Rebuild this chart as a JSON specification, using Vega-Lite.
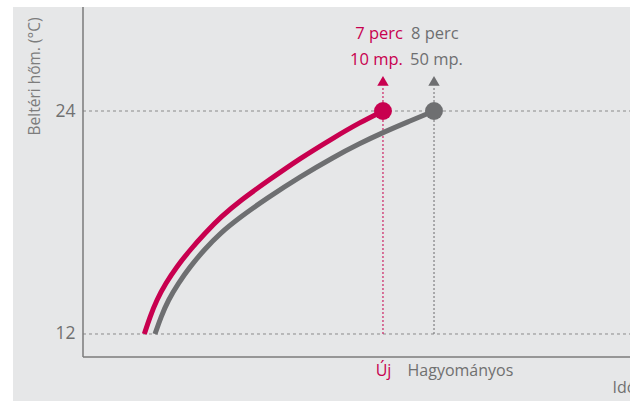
{
  "$schema": "https://vega.github.io/schema/vega-lite/v6.json",
  "width": 617,
  "height": 394,
  "autosize": {"type": "none"},
  "padding": {"left": 13, "top": 7, "right": 0, "bottom": 0},
  "background": "#ffffff",
  "config": {"view": {"fill": "#e6e7e8", "stroke": null}, "font": "Open Sans"},
  "datasets": {
    "gorbek": [
      {"sorozat": "Új", "ido": 11.21, "hom": 12.0},
      {"sorozat": "Új", "ido": 12.25, "hom": 12.93},
      {"sorozat": "Új", "ido": 13.47, "hom": 13.83},
      {"sorozat": "Új", "ido": 15.12, "hom": 14.73},
      {"sorozat": "Új", "ido": 17.13, "hom": 15.62},
      {"sorozat": "Új", "ido": 19.56, "hom": 16.52},
      {"sorozat": "Új", "ido": 22.3, "hom": 17.42},
      {"sorozat": "Új", "ido": 25.23, "hom": 18.31},
      {"sorozat": "Új", "ido": 28.88, "hom": 19.21},
      {"sorozat": "Új", "ido": 33.58, "hom": 20.2},
      {"sorozat": "Új", "ido": 39.67, "hom": 21.45},
      {"sorozat": "Új", "ido": 45.76, "hom": 22.55},
      {"sorozat": "Új", "ido": 50.6, "hom": 23.38},
      {"sorozat": "Új", "ido": 54.84, "hom": 24.0},
      {"sorozat": "Hagyományos", "ido": 13.16, "hom": 12.0},
      {"sorozat": "Hagyományos", "ido": 14.26, "hom": 12.93},
      {"sorozat": "Hagyományos", "ido": 15.59, "hom": 13.83},
      {"sorozat": "Hagyományos", "ido": 17.42, "hom": 14.73},
      {"sorozat": "Hagyományos", "ido": 19.56, "hom": 15.62},
      {"sorozat": "Hagyományos", "ido": 22.18, "hom": 16.54},
      {"sorozat": "Hagyományos", "ido": 25.05, "hom": 17.42},
      {"sorozat": "Hagyományos", "ido": 28.7, "hom": 18.28},
      {"sorozat": "Hagyományos", "ido": 33.58, "hom": 19.3},
      {"sorozat": "Hagyományos", "ido": 39.67, "hom": 20.46},
      {"sorozat": "Hagyományos", "ido": 45.76, "hom": 21.51},
      {"sorozat": "Hagyományos", "ido": 50.64, "hom": 22.26},
      {"sorozat": "Hagyományos", "ido": 54.9, "hom": 22.85},
      {"sorozat": "Hagyományos", "ido": 59.5, "hom": 23.43},
      {"sorozat": "Hagyományos", "ido": 64.17, "hom": 24.0}
    ],
    "pontok": [
      {"sorozat": "Új", "ido": 54.84, "hom": 24, "perc": "7 perc", "mp": "10 mp."},
      {"sorozat": "Hagyományos", "ido": 64.17, "hom": 24, "perc": "8 perc", "mp": "50 mp."}
    ],
    "racs": [{"hom": 12}, {"hom": 24}]
  },
  "layer": [
    {
      "data": {"name": "racs"},
      "mark": {"type": "rule", "color": "#8a8a8a", "strokeWidth": 1, "strokeDash": [3, 3]},
      "encoding": {
        "y": {"field": "hom", "type": "quantitative", "scale": {"domain": [8.394, 29.597], "nice": false, "zero": false}},
        "x": {"datum": 0, "type": "quantitative", "scale": {"domain": [-12.797, 100], "nice": false, "zero": false}},
        "x2": {"datum": 100}
      }
    },
    {
      "data": {"values": [{}]},
      "mark": {"type": "rule", "color": "#7b7b7b", "strokeWidth": 1.5},
      "encoding": {
        "x": {"datum": 0, "type": "quantitative", "scale": {"domain": [-12.797, 100], "nice": false, "zero": false}},
        "y": {"datum": 10.762, "type": "quantitative", "scale": {"domain": [8.394, 29.597], "nice": false, "zero": false}},
        "y2": {"datum": 29.597}
      }
    },
    {
      "data": {"values": [{}]},
      "mark": {"type": "rule", "color": "#7b7b7b", "strokeWidth": 1.5},
      "encoding": {
        "x": {"datum": 0, "type": "quantitative", "scale": {"domain": [-12.797, 100], "nice": false, "zero": false}},
        "x2": {"datum": 100},
        "y": {"datum": 10.762, "type": "quantitative", "scale": {"domain": [8.394, 29.597], "nice": false, "zero": false}}
      }
    },
    {
      "data": {"name": "pontok"},
      "mark": {"type": "rule", "strokeWidth": 1.2, "strokeDash": [2, 2], "opacity": 0.85},
      "encoding": {
        "x": {"field": "ido", "type": "quantitative", "scale": {"domain": [-12.797, 100], "nice": false, "zero": false}},
        "y": {"datum": 12, "type": "quantitative", "scale": {"domain": [8.394, 29.597], "nice": false, "zero": false}},
        "y2": {"datum": 25.3},
        "color": {"field": "sorozat", "type": "nominal", "scale": {"domain": ["Új", "Hagyományos"], "range": ["#c8004f", "#6e6f71"]}, "legend": null}
      }
    },
    {
      "data": {"name": "pontok"},
      "mark": {"type": "point", "shape": "triangle-up", "filled": true, "opacity": 1, "size": 130},
      "encoding": {
        "x": {"field": "ido", "type": "quantitative", "scale": {"domain": [-12.797, 100], "nice": false, "zero": false}},
        "y": {"datum": 25.62, "type": "quantitative", "scale": {"domain": [8.394, 29.597], "nice": false, "zero": false}},
        "color": {"field": "sorozat", "type": "nominal", "scale": {"domain": ["Új", "Hagyományos"], "range": ["#c8004f", "#6e6f71"]}, "legend": null}
      }
    },
    {
      "data": {"name": "gorbek"},
      "mark": {"type": "line", "strokeWidth": 5, "interpolate": "basis", "strokeCap": "butt"},
      "encoding": {
        "x": {
          "field": "ido", "type": "quantitative",
          "scale": {"domain": [-12.797, 100], "nice": false, "zero": false},
          "axis": {
            "values": [54.84, 64.17],
            "labelExpr": "datum.value < 60 ? 'Új' : 'Hagyományos'",
            "labelAlign": {"condition": {"test": "datum.value > 60", "value": "left"}, "value": "center"},
            "labelOffset": {"condition": {"test": "datum.value > 60", "value": -27}, "value": 0},
            "labelColor": {"condition": {"test": "datum.value < 60", "value": "#c8004f"}, "value": "#707070"},
            "labelFontSize": 16,
            "labelPadding": 5,
            "labelFlush": false,
            "labelOverlap": false,
            "labelBound": false,
            "domain": false,
            "ticks": false,
            "grid": false,
            "offset": -44,
            "title": "Idő",
            "titleX": 599,
            "titleY": 22,
            "titleAlign": "left",
            "titleBaseline": "top",
            "titleFontSize": 16,
            "titleFontWeight": "normal",
            "titleColor": "#707070"
          }
        },
        "y": {
          "field": "hom", "type": "quantitative",
          "scale": {"domain": [8.394, 29.597], "nice": false, "zero": false},
          "axis": {
            "values": [12, 24],
            "domain": false,
            "ticks": false,
            "grid": false,
            "offset": -70,
            "labelPadding": 8,
            "labelFontSize": 17.5,
            "labelColor": "#707070",
            "title": "Beltéri hőm. (°C)",
            "titleFontSize": 15.5,
            "titleFontWeight": "normal",
            "titleColor": "#7d7d7d",
            "titleAnchor": "end",
            "titleAlign": "right",
            "titleY": 10,
            "titlePadding": 12
          }
        },
        "color": {"field": "sorozat", "type": "nominal", "scale": {"domain": ["Új", "Hagyományos"], "range": ["#c8004f", "#6e6f71"]}, "legend": null},
        "detail": {"field": "sorozat"}
      }
    },
    {
      "data": {"name": "pontok"},
      "mark": {"type": "circle", "size": 320, "opacity": 1},
      "encoding": {
        "x": {"field": "ido", "type": "quantitative", "scale": {"domain": [-12.797, 100], "nice": false, "zero": false}},
        "y": {"field": "hom", "type": "quantitative", "scale": {"domain": [8.394, 29.597], "nice": false, "zero": false}},
        "color": {"field": "sorozat", "type": "nominal", "scale": {"domain": ["Új", "Hagyományos"], "range": ["#c8004f", "#6e6f71"]}, "legend": null}
      }
    },
    {
      "data": {"name": "pontok"},
      "mark": {"type": "text", "fontSize": 16.5, "baseline": "middle",
        "align": {"expr": "datum.sorozat == 'Új' ? 'right' : 'left'"},
        "dx": {"expr": "datum.sorozat == 'Új' ? 20 : -23"}},
      "encoding": {
        "x": {"field": "ido", "type": "quantitative", "scale": {"domain": [-12.797, 100], "nice": false, "zero": false}},
        "y": {"datum": 28.14, "type": "quantitative", "scale": {"domain": [8.394, 29.597], "nice": false, "zero": false}},
        "text": {"field": "perc"},
        "color": {"field": "sorozat", "type": "nominal", "scale": {"domain": ["Új", "Hagyományos"], "range": ["#c8004f", "#6e6f71"]}, "legend": null}
      }
    },
    {
      "data": {"name": "pontok"},
      "mark": {"type": "text", "fontSize": 16.5, "baseline": "middle",
        "align": {"expr": "datum.sorozat == 'Új' ? 'right' : 'left'"},
        "dx": {"expr": "datum.sorozat == 'Új' ? 20 : -24"}},
      "encoding": {
        "x": {"field": "ido", "type": "quantitative", "scale": {"domain": [-12.797, 100], "nice": false, "zero": false}},
        "y": {"datum": 26.74, "type": "quantitative", "scale": {"domain": [8.394, 29.597], "nice": false, "zero": false}},
        "text": {"field": "mp"},
        "color": {"field": "sorozat", "type": "nominal", "scale": {"domain": ["Új", "Hagyományos"], "range": ["#c8004f", "#6e6f71"]}, "legend": null}
      }
    }
  ]
}
